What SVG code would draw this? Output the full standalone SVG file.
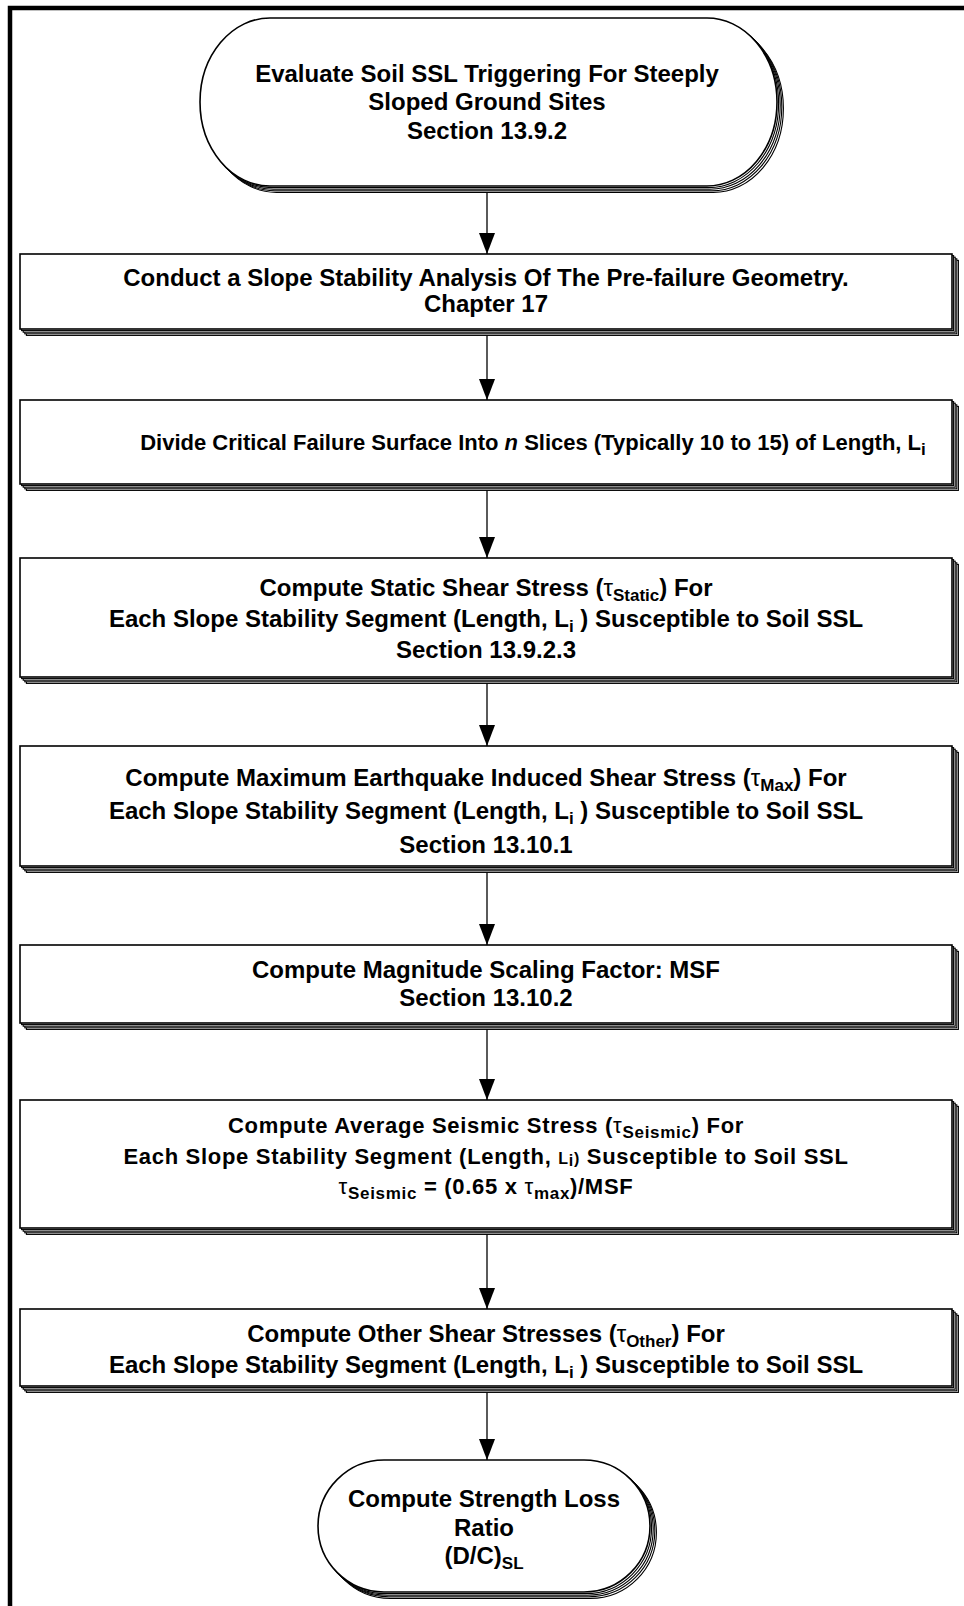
<svg xmlns="http://www.w3.org/2000/svg" xmlns:xlink="http://www.w3.org/1999/xlink" width="964" height="1606" viewBox="0 0 964 1606">
  <style>
    .frame { fill: none; stroke: #000; stroke-width: 4.5; }
    .sh { fill: #fff; stroke: #000; stroke-width: 1.1; }
    .face { fill: #fff; stroke: #000; stroke-width: 1.6; }
    .link { fill: none; stroke: #000; stroke-width: 1.3; }
    .t { font-family: "Liberation Sans", Arial, sans-serif; font-weight: bold; font-size: 24px; text-anchor: middle; fill: #000; }
    .s2 { font-size: 22px; }
    .s6 { font-size: 22px; letter-spacing: 0.7px; }
    .sub { font-size: 17px; }
    .g { font-weight: normal; }
    .sm { font-size: 16px; }
  </style>
  <defs>
    <marker id="arrow" viewBox="0 0 21 16" refX="21" refY="8" markerWidth="21" markerHeight="16" markerUnits="userSpaceOnUse" orient="auto">
      <path d="M0,0 L21,8 L0,16 Z" fill="#000"/>
    </marker>
    <!-- node outlines, drawn once for the shadow stack and once for the face -->
    <rect id="o-start" x="200" y="18" width="577" height="168" rx="70" ry="84"/>
    <rect id="o-b1" x="20" y="254" width="932" height="75"/>
    <rect id="o-b2" x="20" y="400" width="932" height="84"/>
    <rect id="o-b3" x="20" y="558" width="932" height="119"/>
    <rect id="o-b4" x="20" y="746" width="932" height="120"/>
    <rect id="o-b5" x="20" y="945" width="932" height="78"/>
    <rect id="o-b6" x="20" y="1100" width="932" height="128"/>
    <rect id="o-b7" x="20" y="1309" width="932" height="77"/>
    <rect id="o-end" x="318" y="1460" width="332" height="132" rx="66" ry="66"/>
  </defs>

  <rect class="frame" x="10" y="8" width="962" height="1612"/>

  <g id="connectors">
    <line class="link" x1="487" y1="186" x2="487" y2="254" marker-end="url(#arrow)"/>
    <line class="link" x1="487" y1="329" x2="487" y2="400" marker-end="url(#arrow)"/>
    <line class="link" x1="487" y1="484" x2="487" y2="558" marker-end="url(#arrow)"/>
    <line class="link" x1="487" y1="677" x2="487" y2="746" marker-end="url(#arrow)"/>
    <line class="link" x1="487" y1="866" x2="487" y2="945" marker-end="url(#arrow)"/>
    <line class="link" x1="487" y1="1023" x2="487" y2="1100" marker-end="url(#arrow)"/>
    <line class="link" x1="487" y1="1228" x2="487" y2="1309" marker-end="url(#arrow)"/>
    <line class="link" x1="487" y1="1386" x2="487" y2="1460" marker-end="url(#arrow)"/>
  </g>

  <g id="start">
    <use href="#o-start" class="sh" x="6.4" y="6.4"/>
    <use href="#o-start" class="sh" x="4.8" y="4.8"/>
    <use href="#o-start" class="sh" x="3.2" y="3.2"/>
    <use href="#o-start" class="sh" x="1.6" y="1.6"/>
    <use href="#o-start" class="face"/>
    <text class="t" x="487" y="81.5">Evaluate Soil SSL Triggering For Steeply</text>
    <text class="t" x="487" y="110">Sloped Ground Sites</text>
    <text class="t" x="487" y="138.5">Section 13.9.2</text>
  </g>

  <g id="slope-analysis">
    <use href="#o-b1" class="sh" x="6.4" y="6.4"/>
    <use href="#o-b1" class="sh" x="4.8" y="4.8"/>
    <use href="#o-b1" class="sh" x="3.2" y="3.2"/>
    <use href="#o-b1" class="sh" x="1.6" y="1.6"/>
    <use href="#o-b1" class="face"/>
    <text class="t" x="486" y="285.5">Conduct a Slope Stability Analysis Of The Pre-failure Geometry.</text>
    <text class="t" x="486" y="312">Chapter 17</text>
  </g>

  <g id="divide-slices">
    <use href="#o-b2" class="sh" x="6.4" y="6.4"/>
    <use href="#o-b2" class="sh" x="4.8" y="4.8"/>
    <use href="#o-b2" class="sh" x="3.2" y="3.2"/>
    <use href="#o-b2" class="sh" x="1.6" y="1.6"/>
    <use href="#o-b2" class="face"/>
    <text class="t s2" x="533" y="450">Divide Critical Failure Surface Into <tspan font-style="italic">n</tspan> Slices (Typically 10 to 15) of Length, L<tspan class="sub" dy="5">i</tspan></text>
  </g>

  <g id="static-stress">
    <use href="#o-b3" class="sh" x="6.4" y="6.4"/>
    <use href="#o-b3" class="sh" x="4.8" y="4.8"/>
    <use href="#o-b3" class="sh" x="3.2" y="3.2"/>
    <use href="#o-b3" class="sh" x="1.6" y="1.6"/>
    <use href="#o-b3" class="face"/>
    <text class="t" x="486" y="595.5">Compute Static Shear Stress (<tspan class="g">τ</tspan><tspan class="sub" dy="5">Static</tspan><tspan dy="-5">) For</tspan></text>
    <text class="t" x="486" y="626.5">Each Slope Stability Segment (Length, L<tspan class="sub" dy="5">i</tspan><tspan dy="-5"> ) Susceptible to Soil SSL</tspan></text>
    <text class="t" x="486" y="657.5">Section 13.9.2.3</text>
  </g>

  <g id="max-stress">
    <use href="#o-b4" class="sh" x="6.4" y="6.4"/>
    <use href="#o-b4" class="sh" x="4.8" y="4.8"/>
    <use href="#o-b4" class="sh" x="3.2" y="3.2"/>
    <use href="#o-b4" class="sh" x="1.6" y="1.6"/>
    <use href="#o-b4" class="face"/>
    <text class="t" x="486" y="785.5">Compute Maximum Earthquake Induced Shear Stress (<tspan class="g">τ</tspan><tspan class="sub" dy="5">Max</tspan><tspan dy="-5">) For</tspan></text>
    <text class="t" x="486" y="818.5">Each Slope Stability Segment (Length, L<tspan class="sub" dy="5">i</tspan><tspan dy="-5"> ) Susceptible to Soil SSL</tspan></text>
    <text class="t" x="486" y="852.5">Section 13.10.1</text>
  </g>

  <g id="msf">
    <use href="#o-b5" class="sh" x="6.4" y="6.4"/>
    <use href="#o-b5" class="sh" x="4.8" y="4.8"/>
    <use href="#o-b5" class="sh" x="3.2" y="3.2"/>
    <use href="#o-b5" class="sh" x="1.6" y="1.6"/>
    <use href="#o-b5" class="face"/>
    <text class="t" x="486" y="977.5">Compute Magnitude Scaling Factor: MSF</text>
    <text class="t" x="486" y="1005.5">Section 13.10.2</text>
  </g>

  <g id="seismic-stress">
    <use href="#o-b6" class="sh" x="6.4" y="6.4"/>
    <use href="#o-b6" class="sh" x="4.8" y="4.8"/>
    <use href="#o-b6" class="sh" x="3.2" y="3.2"/>
    <use href="#o-b6" class="sh" x="1.6" y="1.6"/>
    <use href="#o-b6" class="face"/>
    <text class="t s6" x="486" y="1133">Compute Average Seismic Stress (<tspan class="g">τ</tspan><tspan class="sub" dy="5">Seismic</tspan><tspan dy="-5">) For</tspan></text>
    <text class="t s6" x="486" y="1164">Each Slope Stability Segment (Length, <tspan class="sm">L</tspan><tspan class="sm" font-size="12" dy="2">i</tspan><tspan class="sm" dy="-2">)</tspan> Susceptible to Soil SSL</text>
    <text class="t s6" x="486" y="1194"><tspan class="g">τ</tspan><tspan class="sub" dy="5">Seismic</tspan><tspan dy="-5"> = (0.65 x </tspan><tspan class="g">τ</tspan><tspan class="sub" dy="5">max</tspan><tspan dy="-5">)/MSF</tspan></text>
  </g>

  <g id="other-stress">
    <use href="#o-b7" class="sh" x="6.4" y="6.4"/>
    <use href="#o-b7" class="sh" x="4.8" y="4.8"/>
    <use href="#o-b7" class="sh" x="3.2" y="3.2"/>
    <use href="#o-b7" class="sh" x="1.6" y="1.6"/>
    <use href="#o-b7" class="face"/>
    <text class="t" x="486" y="1341.5">Compute Other Shear Stresses (<tspan class="g">τ</tspan><tspan class="sub" dy="5">Other</tspan><tspan dy="-5">) For</tspan></text>
    <text class="t" x="486" y="1372.5">Each Slope Stability Segment (Length, L<tspan class="sub" dy="5">i</tspan><tspan dy="-5"> ) Susceptible to Soil SSL</tspan></text>
  </g>

  <g id="end">
    <use href="#o-end" class="sh" x="6.4" y="6.4"/>
    <use href="#o-end" class="sh" x="4.8" y="4.8"/>
    <use href="#o-end" class="sh" x="3.2" y="3.2"/>
    <use href="#o-end" class="sh" x="1.6" y="1.6"/>
    <use href="#o-end" class="face"/>
    <text class="t" x="484" y="1506.5">Compute Strength Loss</text>
    <text class="t" x="484" y="1535.5">Ratio</text>
    <text class="t" x="484" y="1563.5">(D/C)<tspan class="sub" dy="5">SL</tspan></text>
  </g>
</svg>
